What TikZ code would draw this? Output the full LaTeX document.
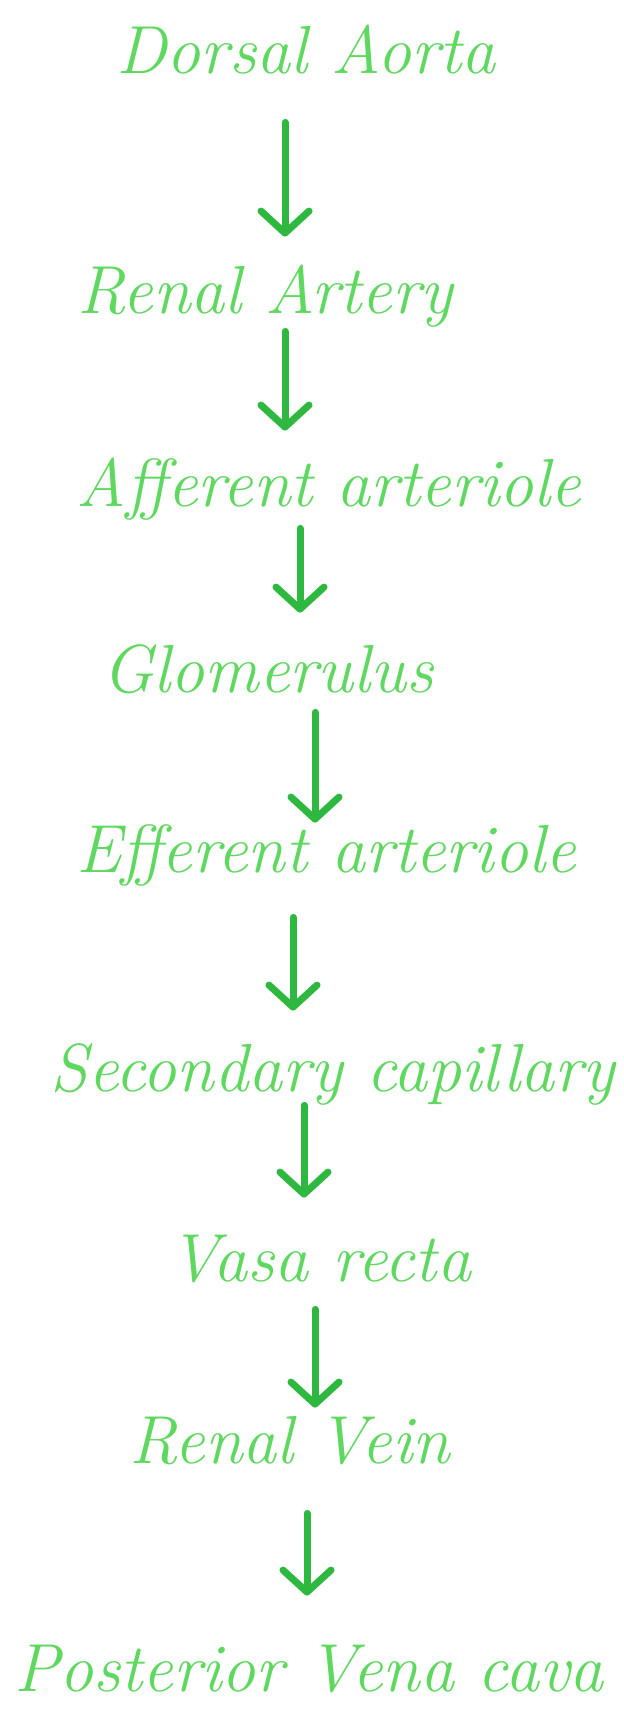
\documentclass[tikz,border=0pt]{standalone}
\usetikzlibrary{arrows.meta,positioning}
\definecolor{InkGreen}{HTML}{5FD85F}
\definecolor{ArrowGreen}{HTML}{2EB840}
\tikzset{
  stage/.style={font=\fontsize{34}{40}\selectfont\itshape,text=InkGreen,inner sep=0pt,text height=24pt,text depth=8pt},
  flow/.style={ArrowGreen,line width=3.5pt,line cap=round,-{Straight Barb[length=11pt,width=24pt,round]}}
}
\begin{document}
\begin{tikzpicture}[x=0.5pt,y=-0.5pt]
\fill[white] (0,0) rectangle (623,1733); \useasboundingbox (0,0) rectangle (623,1733);
\node[stage] (dorsal) at (306,58){Dorsal Aorta};
\node[stage] (artery) at (265,298){Renal Artery};
\node[stage] (aff) at (329,490){Afferent arteriole};
\node[stage] (glom) at (268,676){Glomerulus};
\node[stage] (eff) at (326,856){Efferent arteriole};
\node[stage] (cap) at (333,1075){Secondary capillary};
\node[stage] (vasa) at (320,1265){Vasa recta};
\node[stage] (vein) at (290,1447){Renal Vein};
\node[stage] (cava) at (309,1675){Posterior Vena cava};
% arrows down the chain
\draw[flow,shorten <=16pt,shorten >=14.5pt] ([xshift=-10.5pt]dorsal.south)--([xshift=10pt]artery.north);
\draw[flow,shorten <=0.5pt,shorten >=13.5pt] ([xshift=10pt]artery.south)--([xshift=-22pt]aff.north);
\draw[flow,shorten <=3pt,shorten >=15.5pt] ([xshift=-14.5pt]aff.south)--([xshift=16pt]glom.north);
\draw[flow,shorten <=2pt,shorten >=0.5pt] ([xshift=23.5pt]glom.south)--([xshift=-5.5pt]eff.north);
\draw[flow,shorten <=14.5pt,shorten >=16pt] ([xshift=-16.5pt]eff.south)--([xshift=-20pt]cap.north);
\draw[flow,shorten <=-1pt,shorten >=17.5pt] ([xshift=-14.5pt]cap.south)--([xshift=-8pt]vasa.north);
\draw[flow,shorten <=6pt,shorten >=3.5pt] ([xshift=-2.5pt]vasa.south)--([xshift=12.5pt]vein.north);
\draw[flow,shorten <=17pt,shorten >=23.5pt] ([xshift=8.5pt]vein.south)--([xshift=-1pt]cava.north);
\end{tikzpicture}
\end{document}
